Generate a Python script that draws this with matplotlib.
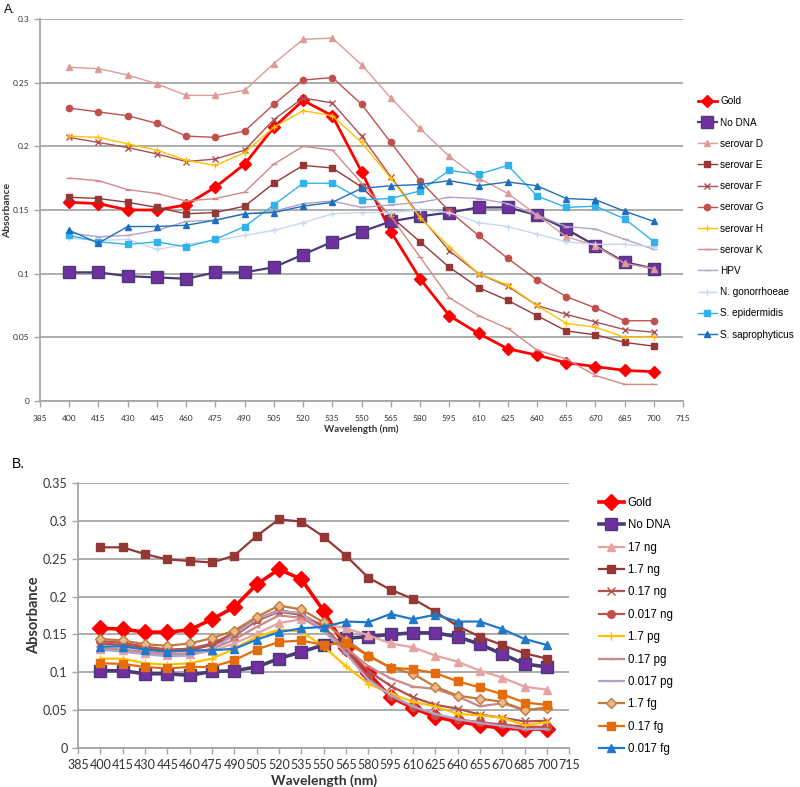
import matplotlib.pyplot as plt
from matplotlib.ticker import FuncFormatter

plt.rcParams['font.family'] = ['Lato', 'DejaVu Sans']

wl = list(range(400, 701, 15))

# ---- panel A data ----
a_gold = [0.156, 0.155, 0.150, 0.150, 0.154, 0.168, 0.186, 0.215, 0.236, 0.224, 0.180, 0.133, 0.096, 0.067, 0.053, 0.041, 0.036, 0.030, 0.027, 0.024, 0.023]
a_nodna = [0.101, 0.101, 0.098, 0.097, 0.096, 0.101, 0.101, 0.105, 0.115, 0.125, 0.133, 0.141, 0.145, 0.148, 0.152, 0.152, 0.146, 0.135, 0.122, 0.109, 0.104]
a_sD = [0.262, 0.261, 0.256, 0.249, 0.240, 0.240, 0.244, 0.265, 0.284, 0.285, 0.264, 0.238, 0.214, 0.192, 0.175, 0.163, 0.146, 0.129, 0.122, 0.108, 0.104]
a_sE = [0.160, 0.159, 0.156, 0.152, 0.147, 0.148, 0.153, 0.171, 0.185, 0.183, 0.168, 0.145, 0.125, 0.105, 0.089, 0.079, 0.067, 0.055, 0.052, 0.046, 0.043]
a_sF = [0.207, 0.203, 0.199, 0.194, 0.188, 0.190, 0.197, 0.221, 0.238, 0.234, 0.208, 0.176, 0.145, 0.118, 0.100, 0.090, 0.075, 0.068, 0.062, 0.056, 0.054]
a_sG = [0.230, 0.227, 0.224, 0.218, 0.208, 0.207, 0.212, 0.233, 0.252, 0.254, 0.233, 0.203, 0.173, 0.149, 0.130, 0.112, 0.095, 0.082, 0.073, 0.063, 0.063]
a_sH = [0.208, 0.207, 0.202, 0.197, 0.189, 0.185, 0.195, 0.215, 0.228, 0.224, 0.203, 0.175, 0.144, 0.121, 0.100, 0.091, 0.075, 0.061, 0.058, 0.050, 0.050]
a_sK = [0.175, 0.173, 0.166, 0.163, 0.157, 0.159, 0.164, 0.186, 0.200, 0.197, 0.171, 0.145, 0.113, 0.081, 0.067, 0.057, 0.040, 0.033, 0.020, 0.013, 0.013]
a_hpv = [0.132, 0.129, 0.130, 0.134, 0.141, 0.142, 0.147, 0.149, 0.155, 0.157, 0.152, 0.154, 0.156, 0.160, 0.159, 0.155, 0.146, 0.137, 0.135, 0.127, 0.119]
a_ngon = [0.128, 0.126, 0.127, 0.119, 0.123, 0.126, 0.130, 0.134, 0.140, 0.147, 0.148, 0.148, 0.150, 0.148, 0.140, 0.137, 0.131, 0.125, 0.123, 0.123, 0.121]
a_sepi = [0.130, 0.125, 0.123, 0.125, 0.121, 0.127, 0.137, 0.154, 0.171, 0.171, 0.158, 0.159, 0.165, 0.181, 0.178, 0.185, 0.161, 0.152, 0.153, 0.143, 0.125]
a_ssap = [0.134, 0.124, 0.137, 0.137, 0.138, 0.142, 0.147, 0.148, 0.153, 0.156, 0.167, 0.169, 0.170, 0.173, 0.169, 0.172, 0.169, 0.159, 0.158, 0.149, 0.141]

# ---- panel B data ----
b_gold = [0.158, 0.157, 0.153, 0.153, 0.156, 0.170, 0.186, 0.216, 0.236, 0.223, 0.181, 0.132, 0.099, 0.067, 0.053, 0.041, 0.035, 0.030, 0.026, 0.025, 0.025]
b_nodna = [0.102, 0.102, 0.098, 0.098, 0.096, 0.101, 0.102, 0.107, 0.118, 0.127, 0.136, 0.145, 0.147, 0.150, 0.152, 0.152, 0.147, 0.137, 0.124, 0.111, 0.107]
b_17ng = [0.131, 0.129, 0.126, 0.123, 0.124, 0.128, 0.138, 0.151, 0.165, 0.170, 0.164, 0.158, 0.149, 0.138, 0.133, 0.122, 0.114, 0.102, 0.093, 0.081, 0.077]
b_1_7ng = [0.265, 0.265, 0.256, 0.249, 0.247, 0.245, 0.254, 0.280, 0.302, 0.299, 0.279, 0.254, 0.225, 0.209, 0.197, 0.180, 0.161, 0.147, 0.136, 0.125, 0.118]
b_017ng = [0.138, 0.136, 0.132, 0.128, 0.129, 0.136, 0.148, 0.168, 0.180, 0.176, 0.160, 0.130, 0.102, 0.082, 0.067, 0.057, 0.052, 0.044, 0.040, 0.035, 0.036]
b_0017ng = [0.141, 0.139, 0.134, 0.130, 0.131, 0.138, 0.152, 0.170, 0.182, 0.177, 0.160, 0.128, 0.094, 0.068, 0.054, 0.044, 0.038, 0.034, 0.031, 0.028, 0.028]
b_1_7pg = [0.118, 0.118, 0.112, 0.110, 0.112, 0.118, 0.131, 0.147, 0.156, 0.154, 0.134, 0.108, 0.085, 0.072, 0.061, 0.055, 0.045, 0.043, 0.040, 0.030, 0.034]
b_017pg = [0.132, 0.130, 0.127, 0.124, 0.125, 0.131, 0.143, 0.160, 0.175, 0.172, 0.155, 0.132, 0.108, 0.092, 0.081, 0.078, 0.068, 0.055, 0.059, 0.050, 0.053]
b_0017pg = [0.130, 0.127, 0.124, 0.121, 0.122, 0.130, 0.150, 0.170, 0.181, 0.178, 0.155, 0.125, 0.090, 0.070, 0.055, 0.045, 0.038, 0.033, 0.029, 0.025, 0.025]
b_1_7fg = [0.144, 0.142, 0.137, 0.135, 0.138, 0.145, 0.155, 0.173, 0.188, 0.183, 0.166, 0.143, 0.122, 0.106, 0.098, 0.081, 0.069, 0.065, 0.061, 0.050, 0.053]
b_017fg = [0.112, 0.111, 0.107, 0.105, 0.107, 0.107, 0.116, 0.130, 0.140, 0.142, 0.136, 0.139, 0.122, 0.106, 0.104, 0.099, 0.088, 0.080, 0.071, 0.060, 0.057]
b_0017fg = [0.134, 0.134, 0.130, 0.127, 0.129, 0.129, 0.131, 0.143, 0.153, 0.158, 0.160, 0.167, 0.166, 0.177, 0.170, 0.176, 0.167, 0.167, 0.157, 0.144, 0.136]

fig = plt.figure(figsize=(8, 7.87), dpi=100)
grid_c = '#a6a6a6'


def style_axes(ax, ymax, fs, ylab_x, xpad):
    ax.set_xlim(385, 715)
    ax.set_ylim(0, ymax)
    ax.set_xticks(range(385, 716, 15))
    ax.set_yticks([i * 0.05 for i in range(int(round(ymax / 0.05)) + 1)])
    ax.yaxis.set_major_formatter(FuncFormatter(lambda v, p: f"{v:g}"))
    ax.yaxis.grid(True, color=grid_c, lw=1.3)
    ax.set_axisbelow(True)
    for s in ['top', 'right']:
        ax.spines[s].set_visible(False)
    for s in ['left', 'bottom']:
        ax.spines[s].set_color(grid_c)
        ax.spines[s].set_linewidth(1.3)
    ax.tick_params(axis='both', colors=grid_c, labelcolor='#333333', labelsize=fs, length=4, width=1)
    ax.tick_params(axis='x', pad=xpad)
    ax.set_xlabel("Wavelength (nm)", fontweight='bold', fontsize=fs + 1, color='#333333', labelpad=2)
    ax.set_ylabel("Absorbance", fontweight='bold', fontsize=fs + 1.5, color='#333333')
    ax.yaxis.set_label_coords(ylab_x, 0.5)


# ---- panel A ----
axA = fig.add_axes([0.05, 0.4905, 0.804, 0.4854])
seriesA = [
    ("Gold", a_gold, '#ff0000', 'D', 6, 2.0),
    ("No DNA", a_nodna, '#4b3a78', 's', 8, 1.6),
    ("serovar D", a_sD, '#dc9a98', '^', 4, 1.0),
    ("serovar E", a_sE, '#953735', 's', 4, 1.0),
    ("serovar F", a_sF, '#a94f55', 'x', 4.5, 1.0),
    ("serovar G", a_sG, '#c0504d', 'o', 4.5, 1.0),
    ("serovar H", a_sH, '#ffc000', '+', 5, 1.0),
    ("serovar K", a_sK, '#d08a88', '_', 4, 1.0),
    ("HPV", a_hpv, '#b3a2c7', '_', 4, 1.0),
    ("N. gonorrhoeae", a_ngon, '#c6d9f1', '+', 4, 1.0),
    ("S. epidermidis", a_sepi, '#2fb3ec', 's', 4.5, 1.0),
    ("S. saprophyticus", a_ssap, '#1f6fc0', '^', 4.5, 1.0),
]
for name, vals, c, m, ms, lw in seriesA:
    mfc = '#7030a0' if name == "No DNA" else c
    axA.plot(wl, vals, color=c, marker=m, ms=ms, lw=lw, mfc=mfc, mec=c, label=name)
style_axes(axA, 0.3, 6, -0.043, 6)
axA.legend(loc='center left', bbox_to_anchor=(0.866, 0.723), bbox_transform=fig.transFigure,
           frameon=False, labelspacing=1.12, handlelength=1.9, handletextpad=0.35,
           borderpad=0, prop={'family': ['Liberation Sans'], 'size': 7.2})

# ---- panel B ----
axB = fig.add_axes([0.0975, 0.0496, 0.614, 0.3367])
seriesB = [
    ("Gold", b_gold, '#ff0000', 'D', 8.5, 2.6),
    ("No DNA", b_nodna, '#4b3a78', 's', 9, 2.6),
    ("17 ng", b_17ng, '#e6a3a1', '^', 5.5, 1.6),
    ("1.7 ng", b_1_7ng, '#953735', 's', 5.5, 1.6),
    ("0.17 ng", b_017ng, '#b0504d', 'x', 5.5, 1.6),
    ("0.017 ng", b_0017ng, '#c0504d', 'o', 5.5, 1.6),
    ("1.7 pg", b_1_7pg, '#ffc000', '+', 6, 1.6),
    ("0.17 pg", b_017pg, '#c8888a', '_', 5, 1.6),
    ("0.017 pg", b_0017pg, '#b3a2c7', '_', 5, 1.6),
    ("1.7 fg", b_1_7fg, '#c07a3a', 'D', 5.5, 1.6),
    ("0.17 fg", b_017fg, '#e46c0a', 's', 5.5, 1.6),
    ("0.017 fg", b_0017fg, '#1f78c8', '^', 6, 1.6),
]
for name, vals, c, m, ms, lw in seriesB:
    mfc = c
    if name == "No DNA":
        mfc = '#7030a0'
    if name == "1.7 fg":
        mfc = '#e9b98c'
    axB.plot(wl, vals, color=c, marker=m, ms=ms, lw=lw, mfc=mfc, mec=c, label=name)
style_axes(axB, 0.35, 9, -0.075, 4)
axB.legend(loc='center left', bbox_to_anchor=(0.742, 0.2046), bbox_transform=fig.transFigure,
           frameon=False, labelspacing=0.9, handlelength=2.1, handletextpad=0.35,
           borderpad=0, prop={'family': ['Liberation Sans'], 'size': 8.3})

fig.text(0.005, 0.995, "A.", ha='left', va='top', fontsize=9, family='Liberation Sans')
fig.text(0.015, 0.41, "B.", ha='left', va='center', fontsize=10, family='Liberation Sans')

fig.savefig("out.png", dpi=100)
